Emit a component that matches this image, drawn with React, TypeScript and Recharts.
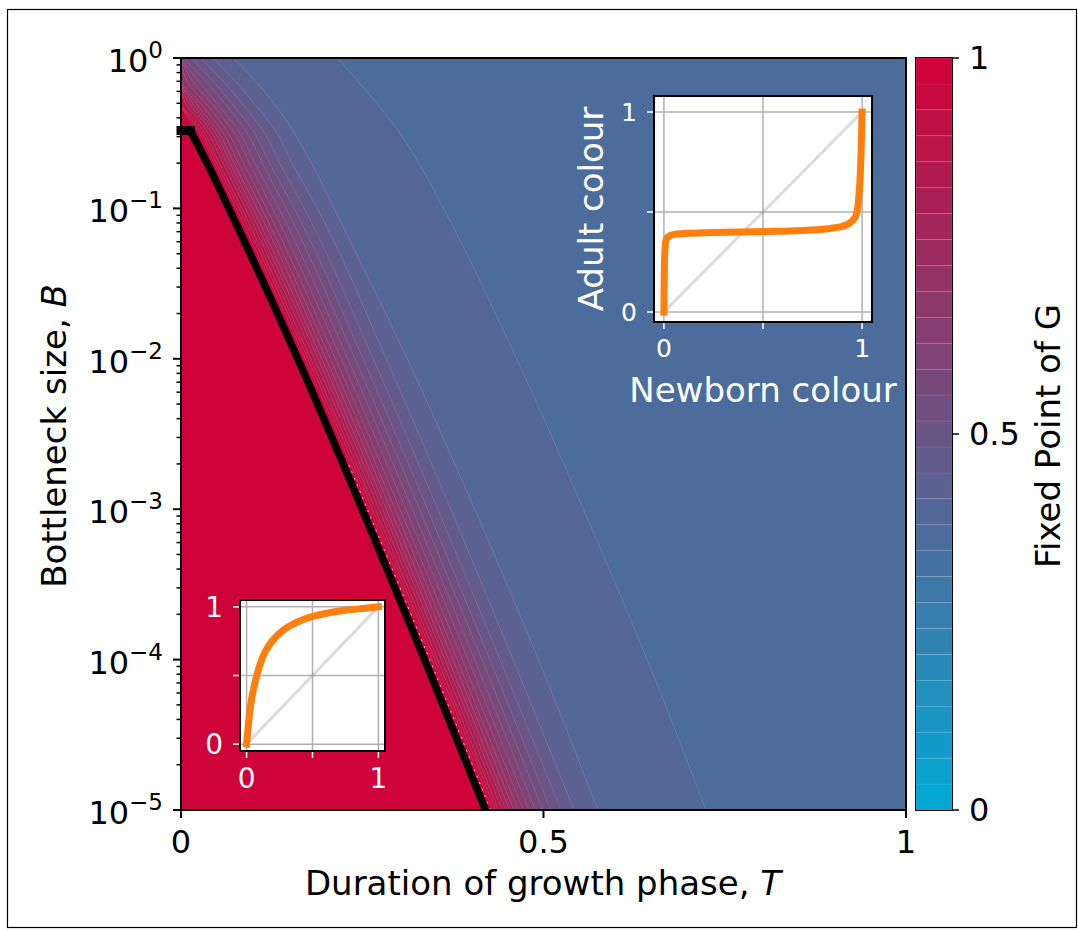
import React from 'react';
import {
  ComposedChart,
  LineChart,
  BarChart,
  Area,
  Line,
  Bar,
  XAxis,
  YAxis,
  CartesianGrid,
} from 'recharts';

const FONT = '"DejaVu Sans", Verdana, sans-serif';

// main panel: T positions of the contours, read at these bottleneck sizes B
const B_ROWS = [1e-5, 1e-4, 1e-3, 1e-2, 0.1, 0.2, 0.33, 0.4, 0.5, 0.7, 1];

// edge of the red region (fixed point = 1), drawn as the thick black curve
const EDGE_T = [0.42, 0.336, 0.25, 0.161, 0.066, 0.036, 0.013, null, null, null, null];
// flat top of the black curve
const EDGE_CAP = [
  { B: 0.33, T: 0 },
  { B: 0.33, T: 0.013 },
];
// faint white dashes just right of the black curve
const EDGE_DASH = [
  { B: 1e-5, T: 0.427 },
  { B: 1e-4, T: 0.343 },
  { B: 1e-3, T: 0.257 },
  { B: 2e-3, T: 0.231 },
];

// contour level k (boundary k/29) -> T at each entry of B_ROWS
const CONTOURS: [number, number[]][] = [
  [11, [0.724, 0.643, 0.555, 0.463, 0.362, 0.328, 0.299, 0.286, 0.27, 0.244, 0.216]],
  [12, [0.575, 0.493, 0.405, 0.312, 0.211, 0.18, 0.154, 0.143, 0.128, 0.103, 0.072]],
  [13, [0.542, 0.458, 0.372, 0.283, 0.188, 0.153, 0.13, 0.117, 0.101, 0.075, 0.044]],
  [14, [0.524, 0.44, 0.354, 0.265, 0.17, 0.136, 0.113, 0.1, 0.084, 0.058, 0.027]],
  [15, [0.51, 0.426, 0.34, 0.251, 0.156, 0.122, 0.099, 0.086, 0.07, 0.044, 0.013]],
  [16, [0.499, 0.415, 0.329, 0.24, 0.145, 0.112, 0.089, 0.076, 0.06, 0.034, 0.003]],
  [17, [0.489, 0.405, 0.319, 0.23, 0.135, 0.102, 0.079, 0.066, 0.05, 0.024, 0]],
  [18, [0.48, 0.396, 0.31, 0.221, 0.126, 0.094, 0.071, 0.058, 0.042, 0.016, 0]],
  [19, [0.472, 0.388, 0.302, 0.213, 0.118, 0.086, 0.063, 0.05, 0.034, 0.008, 0]],
  [20, [0.465, 0.381, 0.295, 0.206, 0.111, 0.079, 0.056, 0.043, 0.027, 0.001, 0]],
  [21, [0.459, 0.375, 0.289, 0.2, 0.105, 0.073, 0.05, 0.037, 0.021, 0, 0]],
  [22, [0.453, 0.369, 0.283, 0.194, 0.099, 0.068, 0.045, 0.032, 0.016, 0, 0]],
  [23, [0.448, 0.364, 0.278, 0.189, 0.094, 0.063, 0.04, 0.027, 0.011, 0, 0]],
  [24, [0.443, 0.359, 0.273, 0.184, 0.089, 0.058, 0.035, 0.022, 0.006, 0, 0]],
  [25, [0.438, 0.354, 0.268, 0.179, 0.084, 0.053, 0.03, 0.017, 0, 0, 0]],
  [26, [0.434, 0.35, 0.264, 0.175, 0.08, 0.049, 0.026, 0.013, 0, 0, 0]],
  [27, [0.43, 0.346, 0.26, 0.171, 0.076, 0.046, 0.023, 0.01, 0, 0, 0]],
];

const X_TICKS = [0, 0.5, 1];
const DECADES = [1e-5, 1e-4, 1e-3, 1e-2, 1e-1, 1];
const MINOR_STEPS = [2, 3, 4, 5, 6, 7, 8, 9];
const Y_TICKS = [
  ...DECADES,
  ...DECADES.slice(0, -1).flatMap((d) => MINOR_STEPS.map((m) => m * d)),
].sort((a, b) => a - b);

// lower-left inset (red region)
const G1_X = [0, 0.01, 0.02, 0.035, 0.05, 0.08, 0.12, 0.17, 0.23, 0.3, 0.4, 0.5, 0.6, 0.75, 0.9, 1];
const G1_Y = [0, 0.11, 0.2, 0.31, 0.39, 0.51, 0.63, 0.72, 0.79, 0.845, 0.895, 0.93, 0.952, 0.975, 0.99, 1];

// upper-right inset (blue region)
const G2_X = [0, 0.001, 0.003, 0.006, 0.01, 0.02, 0.05, 0.1, 0.25, 0.5, 0.7, 0.8, 0.88, 0.92, 0.95, 0.97, 0.98, 0.99, 0.995, 1];
const G2_Y = [0, 0.12, 0.25, 0.32, 0.355, 0.375, 0.388, 0.392, 0.397, 0.402, 0.408, 0.414, 0.424, 0.435, 0.455, 0.485, 0.54, 0.67, 0.8, 1];

const DIAGONAL = [
  { x: 0, d: 0 },
  { x: 1, d: 1 },
];
const INSET_TICKS = [0, 0.5, 1];

// colour scale: 29 bands from cyan (0) to crimson (1)
const N_BANDS = 29;
const LOW = [0, 170, 214];
const HIGH = [210, 0, 54];
const bandColor = (k: number) => {
  const t = (k + 0.5) / N_BANDS;
  return `rgb(${LOW.map((c, i) => Math.round(c + (HIGH[i] - c) * t)).join(',')})`;
};

const mainRows = B_ROWS.map((B, i) => {
  const row: Record<string, number | null> = { B };
  CONTOURS.forEach(([k, ts]) => {
    row[`c${k}`] = ts[i];
  });
  row.c28 = EDGE_T[i];
  return row;
});

const cbRow: Record<string, number | string> = { name: 'cb' };
for (let i = 0; i < N_BANDS; i++) cbRow[`b${i}`] = 1 / N_BANDS;

const g1Rows = G1_X.map((x, i) => ({ x, y: G1_Y[i] }));
const g2Rows = G2_X.map((x, i) => ({ x, y: G2_Y[i] }));

const LogTick = (props: any) => {
  const { x, y, payload } = props;
  const v = payload.value;
  const lg = Math.log10(v);
  const exp = Math.round(lg);
  if (Math.abs(lg - exp) > 1e-6) {
    return <line x1={x - 4.5} x2={x} y1={y} y2={y} stroke="#000" strokeWidth={1.5} />;
  }
  return (
    <g>
      <line x1={x - 8} x2={x} y1={y} y2={y} stroke="#000" strokeWidth={2} />
      <text x={x - 18} y={y + 14} textAnchor="end" fontSize={32} fontFamily={FONT} fill="#000">
        10
        <tspan dy={-14} fontSize={23}>
          {exp === 0 ? '0' : `\u2212${-exp}`}
        </tspan>
      </text>
    </g>
  );
};

const insetTickFmt = (v: number) => (v === 0.5 ? '' : String(v));

function Inset(props: {
  left: number;
  top: number;
  width: number;
  height: number;
  yWidth: number;
  xHeight: number;
  yDomain: [number, number];
  rows: { x: number; y: number }[];
  fontSize: number;
  lineWidth: number;
}) {
  const { left, top, width, height, yWidth, xHeight, yDomain, rows, fontSize, lineWidth } = props;
  const tick = { fill: '#fff', fontSize, fontFamily: FONT };
  const tickLine = { stroke: '#fff', strokeWidth: 1.5 };
  return (
    <div style={{ position: 'absolute', left, top }}>
      <LineChart width={width} height={height} data={rows} margin={{ top: 10, right: 10, left: 0, bottom: 0 }}>
        <CartesianGrid stroke="#b0b0b0" strokeWidth={1.5} fill="#fff" fillOpacity={1} />
        <XAxis
          type="number"
          dataKey="x"
          domain={[-0.05, 1.05]}
          ticks={INSET_TICKS}
          interval={0}
          tickFormatter={insetTickFmt}
          height={xHeight}
          tick={tick}
          tickLine={tickLine}
          tickSize={7}
          tickMargin={10}
          axisLine={false}
        />
        <YAxis
          type="number"
          domain={yDomain}
          allowDataOverflow
          ticks={INSET_TICKS}
          interval={0}
          tickFormatter={insetTickFmt}
          width={yWidth}
          tick={tick}
          tickLine={tickLine}
          tickSize={7}
          tickMargin={10}
          axisLine={false}
        />
        <Line
          data={DIAGONAL}
          dataKey="d"
          type="linear"
          stroke="#888"
          strokeOpacity={0.3}
          strokeWidth={3}
          dot={false}
          activeDot={false}
          isAnimationActive={false}
        />
        <Line
          dataKey="y"
          type="monotone"
          stroke="#ff7f0e"
          strokeWidth={lineWidth}
          strokeLinecap="square"
          strokeLinejoin="round"
          dot={false}
          activeDot={false}
          isAnimationActive={false}
        />
      </LineChart>
    </div>
  );
}

const frame = (left: number, top: number, width: number, height: number, w: number): React.CSSProperties => ({
  position: 'absolute',
  left,
  top,
  width,
  height,
  border: `${w}px solid #000`,
  boxSizing: 'border-box',
  pointerEvents: 'none',
});

export default function App() {
  return (
    <div
      style={{
        position: 'absolute',
        left: 0,
        top: 0,
        width: 1078,
        height: 931,
        background: '#fff',
        fontFamily: FONT,
        overflow: 'hidden',
      }}
    >
      {/* main contour panel */}
      <div style={{ position: 'absolute', left: 0, top: 0 }}>
        <ComposedChart
          layout="vertical"
          width={1078}
          height={931}
          data={mainRows}
          margin={{ top: 58, right: 172, bottom: 61, left: 61 }}
        >
          <CartesianGrid horizontal={false} vertical={false} fill={bandColor(10)} fillOpacity={1} />
          <XAxis
            type="number"
            domain={[0, 1]}
            ticks={X_TICKS}
            interval={0}
            height={60}
            tick={{ fill: '#000', fontSize: 32, fontFamily: FONT }}
            tickLine={{ stroke: '#000', strokeWidth: 2 }}
            tickSize={8}
            tickMargin={12}
            axisLine={false}
          />
          <YAxis
            type="number"
            dataKey="B"
            scale="log"
            domain={[1e-5, 1]}
            allowDataOverflow
            reversed
            ticks={Y_TICKS}
            interval={0}
            width={120}
            tickSize={0}
            tickMargin={0}
            axisLine={false}
            tickLine={false}
            tick={(p: any) => <LogTick {...p} />}
          />
          {CONTOURS.map(([k]) => (
            <Area
              key={k}
              type="monotone"
              dataKey={`c${k}`}
              fill={bandColor(k)}
              fillOpacity={1}
              stroke="rgba(255,255,255,0.16)"
              strokeWidth={0.8}
              dot={false}
              activeDot={false}
              isAnimationActive={false}
            />
          ))}
          <Area
            type="monotone"
            dataKey="c28"
            fill={bandColor(28)}
            fillOpacity={1}
            stroke="#000"
            strokeWidth={7.5}
            dot={false}
            activeDot={false}
            isAnimationActive={false}
          />
          <Line
            data={EDGE_CAP}
            dataKey="T"
            type="linear"
            stroke="#000"
            strokeWidth={9}
            strokeLinecap="square"
            dot={false}
            activeDot={false}
            isAnimationActive={false}
          />
          <Line
            data={EDGE_DASH}
            dataKey="T"
            type="monotone"
            stroke="#fff"
            strokeOpacity={0.75}
            strokeWidth={1}
            strokeDasharray="2 5"
            dot={false}
            activeDot={false}
            isAnimationActive={false}
          />
        </ComposedChart>
      </div>
      <div style={frame(180, 57, 727, 754, 2)} />

      {/* colour bar */}
      <div style={{ position: 'absolute', left: 916, top: 28 }}>
        <BarChart
          width={120}
          height={812}
          data={[cbRow]}
          barCategoryGap={0}
          barGap={0}
          margin={{ top: 30, right: 0, left: 0, bottom: 30 }}
        >
          <XAxis dataKey="name" hide />
          <YAxis
            orientation="right"
            type="number"
            domain={[0, 1]}
            allowDataOverflow
            ticks={[0, 0.5, 1]}
            interval={0}
            width={84}
            tick={{ fill: '#000', fontSize: 32, fontFamily: FONT }}
            tickLine={{ stroke: '#000', strokeWidth: 1.5 }}
            tickSize={7}
            tickMargin={10}
            axisLine={false}
          />
          {Array.from({ length: N_BANDS }, (_, i) => (
            <Bar
              key={i}
              dataKey={`b${i}`}
              stackId="cb"
              fill={bandColor(i)}
              stroke="rgba(255,255,255,0.12)"
              strokeWidth={0.6}
              isAnimationActive={false}
            />
          ))}
        </BarChart>
      </div>
      <div style={frame(915, 57, 38, 754, 1.5)} />

      {/* insets */}
      <Inset
        left={180}
        top={590}
        width={215}
        height={210}
        yWidth={60}
        xHeight={49}
        yDomain={[-0.05, 1.05]}
        rows={g1Rows}
        fontSize={28}
        lineWidth={7}
      />
      <div style={frame(239, 599, 147, 153, 2)} />
      <Inset
        left={600}
        top={86}
        width={282}
        height={284}
        yWidth={54}
        xHeight={48}
        yDomain={[-0.05, 1.08]}
        rows={g2Rows}
        fontSize={25}
        lineWidth={7}
      />
      <div style={frame(653, 95, 220, 228, 2)} />

      {/* axis titles and figure border */}
      <svg
        width={1078}
        height={931}
        style={{ position: 'absolute', left: 0, top: 0, pointerEvents: 'none' }}
        fontFamily={FONT}
      >
        <rect x={7.5} y={9.5} width={1069} height={918} fill="none" stroke="#000" strokeWidth={1.2} />
        <text x={543} y={895} textAnchor="middle" fontSize={34} fill="#000">
          Duration of growth phase, <tspan fontStyle="italic">T</tspan>
        </text>
        <text x={66} y={436} transform="rotate(-90 66 436)" textAnchor="middle" fontSize={34} fill="#000">
          Bottleneck size, <tspan fontStyle="italic">B</tspan>
        </text>
        <text x={1060} y={436} transform="rotate(-90 1060 436)" textAnchor="middle" fontSize={34} fill="#000">
          Fixed Point of G
        </text>
        <text x={763} y={402} textAnchor="middle" fontSize={34} fill="#fff">
          Newborn colour
        </text>
        <text x={603} y={209} transform="rotate(-90 603 209)" textAnchor="middle" fontSize={34} fill="#fff">
          Adult colour
        </text>
      </svg>
    </div>
  );
}
